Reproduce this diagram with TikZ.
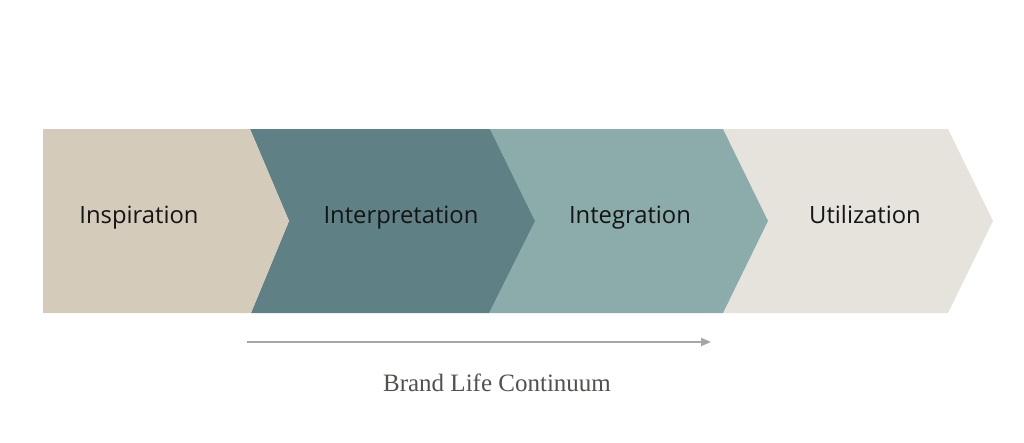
\documentclass[tikz,border=0pt]{standalone}
\usepackage{fontspec}
\setmainfont{Liberation Serif}
\newfontfamily\labelfont{Open Sans}
\usetikzlibrary{arrows.meta}
\definecolor{cSand}{RGB}{213,203,187}
\definecolor{cTealDark}{RGB}{95,128,132}
\definecolor{cTealLight}{RGB}{139,172,171}
\definecolor{cStone}{RGB}{230,227,221}
\definecolor{cArrow}{RGB}{166,166,166}
\definecolor{cCaption}{RGB}{78,84,76}
\definecolor{cText}{RGB}{20,20,20}
\tikzset{
  stagelabel/.style={anchor=base, text=cText, font=\labelfont\fontsize{23.8}{28}\selectfont, inner sep=0pt},
  caption/.style={anchor=base, text=cCaption, font=\fontsize{25}{30}\selectfont, inner sep=0pt},
  flow/.style={draw=cArrow, line width=1.8pt, -{Triangle[length=10pt,width=8pt]}}
}
\begin{document}
\begin{tikzpicture}[x=1pt,y=-1pt]
\fill[white] (0,0) rectangle (1024,442);
\useasboundingbox (0,0) rectangle (1024,442);
% stage 4 (back)
\fill[cStone] (723,129) -- (948,129) -- (993,221) -- (948,313) -- (723,313) -- (768,221) -- cycle;
% stage 3
\fill[cTealLight] (490,129) -- (723,129) -- (768,221) -- (723,313) -- (489,313) -- (535,221) -- cycle;
% stage 2
\fill[cTealDark] (250,129) -- (490,129) -- (535,221) -- (489,313) -- (251,313) -- (289,221) -- cycle;
% stage 1
\fill[cSand] (43,129) -- (250,129) -- (289,221) -- (251,313) -- (43,313) -- cycle;

\node[stagelabel] (inspiration) at (139,223.5) {Inspiration};
\node[stagelabel] (interpretation) at (401,223.5) {Interpretation};
\node[stagelabel] (integration) at (630,223.5) {Integration};
\node[stagelabel] (utilization) at (865,223.5) {Utilization};

\coordinate (flowstart) at (247,342);
\coordinate (flowend) at (711,342);
\draw[flow] (flowstart) -- (flowend);

\node[caption] (continuum) at (497,391) {Brand Life Continuum};
\end{tikzpicture}
\end{document}
